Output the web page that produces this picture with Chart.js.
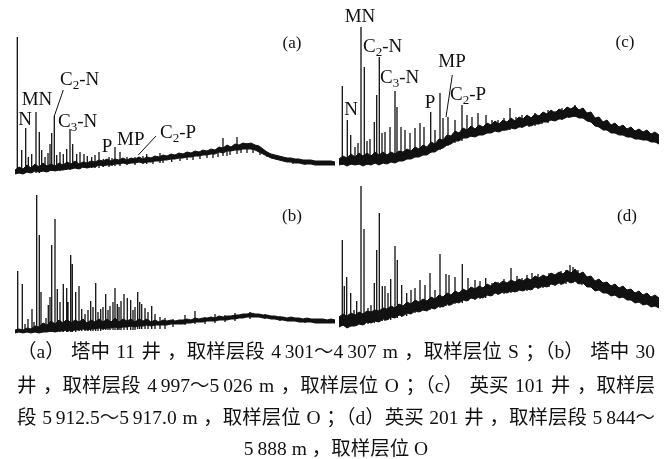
<!DOCTYPE html>
<html>
<head>
<meta charset="utf-8">
<script src="https://cdn.jsdelivr.net/npm/chart.js@4.4.1/dist/chart.umd.min.js"></script>
<style>
  html, body { margin: 0; padding: 0; background: #fff; }
  #wrap { position: relative; width: 670px; height: 459px; overflow: hidden; }
  #wrap canvas { position: absolute; }
  .cap { position: absolute; left: 17px; width: 638px; font-size: 19.5px; line-height: 32px;
    font-family: "Liberation Serif", "Noto Sans CJK SC", serif; color: #111;
    display: flex; justify-content: space-between; white-space: pre; }
  .cap.last { justify-content: center; }
</style>
</head>
<body>
<div id="wrap">
  <canvas id="ca" width="320" height="170" style="left:15px;top:10px"></canvas>
  <canvas id="cb" width="320" height="155" style="left:15px;top:185px"></canvas>
  <canvas id="cc" width="320" height="170" style="left:339px;top:0px"></canvas>
  <canvas id="cd" width="320" height="155" style="left:339px;top:180px"></canvas>
</div>
<script>
// Four chromatograms (retention time vs abundance), drawn as a noisy
// baseline band plus individual peaks.

const bandX = [0, 4, 8, 12, 16, 20, 24, 28, 32, 36, 40, 44, 48, 52, 56, 60, 64, 68, 72, 76, 80, 84, 88,
  92, 96, 100, 104, 108, 112, 116, 120, 124, 128, 132, 136, 140, 144, 148, 152, 156, 160, 164, 168, 172,
  176, 180, 184, 188, 192, 196, 200, 204, 208, 212, 216, 220, 224, 228, 232, 236, 240, 244, 248, 252, 256,
  260, 264, 268, 272, 276, 280, 284, 288, 292, 296, 300, 304, 308, 312, 316, 320];

// ---- (a) 塔中 11 ----
const aBandLow = [-1, 0, -1, 1, 0, 2, 1, 2, 1, 3, 2, 3, 3, 4, 4, 5, 4, 6, 5, 6, 6, 8, 7, 8, 8, 9, 9, 10,
  9, 10, 10, 11, 10, 11, 11, 12, 12, 13, 13, 14, 14, 15, 15, 16, 16, 17, 17, 18, 18, 19, 19, 21, 20, 22, 22,
  23, 23, 24, 24, 24, 23, 21, 19, 17, 15, 14, 13, 12, 11, 11, 10, 10, 9, 9, 9, 8, 8, 8, 8, 8, 8];
const aBandHigh = [3, 6, 4, 8, 5, 9, 6, 10, 7, 9, 7, 10, 8, 11, 9, 12, 9, 11, 10, 12, 11, 13, 12, 14, 12,
  14, 13, 15, 13, 15, 14, 16, 14, 16, 15, 17, 16, 18, 17, 19, 18, 20, 19, 21, 20, 22, 21, 23, 22, 24, 23,
  26, 25, 28, 26, 29, 28, 30, 29, 30, 28, 27, 24, 21, 19, 18, 17, 16, 15, 15, 14, 14, 13, 13, 13, 12, 12,
  12, 12, 12, 11];
const aPeakX = [2.3, 6.7, 10.7, 13.3, 16.7, 21, 24.3, 26.7, 30, 33, 35, 36.7, 39.3, 41.7, 45, 48.3, 51.7,
  55, 57.7, 61.7, 65, 69, 72.3, 76.7, 80, 84, 88.3, 94, 97, 100, 105, 112, 120, 128, 131.7, 138, 145, 148,
  156.7, 165, 172, 178, 185, 192, 198, 203, 208, 212, 215, 222, 226, 232, 238, 245, 252, 262, 270, 278, 290,
  302, 312];
const aPeakTop = [136, 23, 45, 16, 19, 61, 41, 23, 16, 20, 29, 40, 57, 18, 21, 19, 24, 44, 29, 19, 21, 19,
  17, 16, 18, 21, 14, 16, 15, 26, 21, 16, 16, 17, 19, 14, 20, 16, 17, 19, 20, 19, 21, 22, 21, 25, 35, 28,
  26, 36, 29, 30, 26, 21, 19, 16, 15, 14, 13, 12, 12];
const aPeakBase = [0, 0, 0, 0, 0, 0, 0, 1, 1, 1, 2, 2, 2, 2, 2, 3, 3, 3, 4, 4, 4, 5, 5, 5, 5, 5, 6, 6, 7,
  7, 7, 8, 8, 9, 9, 9, 10, 10, 11, 12, 13, 13, 14, 15, 15, 16, 17, 17, 18, 19, 20, 20, 20, 18, 16, 13, 11,
  9, 8, 8, 8];

// ---- (b) 塔中 30 ----
const bBandLow = [-1, 0, -1, 0, -1, 0, -1, 0, 0, 1, 0, 1, 1, 2, 1, 2, 2, 3, 2, 3, 3, 4, 3, 4, 4, 5, 4, 5,
  5, 6, 5, 6, 6, 7, 6, 7, 7, 7, 7, 8, 8, 8, 8, 9, 9, 10, 10, 10, 11, 11, 11, 12, 12, 12, 13, 13, 14, 14, 15,
  15, 15, 15, 14, 14, 13, 13, 12, 12, 11, 11, 11, 10, 10, 10, 10, 9, 9, 9, 9, 9, 9];
const bBandHigh = [2, 3, 2, 4, 3, 6, 5, 9, 7, 11, 8, 12, 9, 13, 9, 12, 10, 13, 9, 12, 10, 13, 10, 13, 10,
  14, 10, 13, 11, 13, 10, 13, 11, 13, 10, 12, 10, 12, 11, 12, 11, 12, 12, 13, 12, 14, 13, 14, 14, 15, 14,
  16, 15, 16, 16, 17, 17, 18, 18, 19, 18, 18, 17, 17, 16, 16, 15, 15, 14, 15, 14, 14, 13, 14, 13, 13, 13,
  13, 12, 13, 12];
const bPeakX = [2.7, 7.3, 10, 13, 17, 19, 21.7, 24.3, 26, 29, 31, 33.3, 35, 36.7, 40, 42.3, 45, 48.3, 51.7,
  53, 55.7, 57.3, 60.7, 64, 66.7, 70, 73, 75.7, 78, 80.7, 83, 85.7, 88, 90.7, 93, 95, 98, 100, 102.3, 104,
  106, 109, 112.3, 115.7, 118, 120, 122.7, 124.7, 126.7, 130, 133, 136.7, 140, 145, 150, 158, 170, 180,
  190, 200, 210, 220, 235, 250, 265, 290, 310];
const bPeakTop = [61, 48, 8, 13, 23, 10, 137, 97, 40, 8, 14, 27, 35, 87, 113, 43, 30, 48, 44, 30, 77, 68,
  40, 46, 23, 18, 22, 31, 25, 49, 20, 23, 25, 38, 22, 26, 30, 44, 28, 25, 31, 38, 34, 32, 22, 25, 40, 30,
  28, 24, 20, 26, 18, 15, 14, 13, 17, 21, 15, 18, 17, 19, 20, 18, 16, 14, 13];
const bPeakBase = [0, 0, 0, 0, 0, 0, 0, 0, 0, 0, 0, 0, 0, 0, 0, 0, 0, 0, 0, 0, 0, 0, 0, 1, 1, 1, 1, 1, 1,
  1, 1, 1, 2, 2, 2, 2, 2, 2, 2, 2, 2, 2, 2, 2, 2, 2, 3, 3, 3, 3, 3, 3, 3, 3, 3, 5, 7, 8, 8, 9, 10, 11, 13,
  13, 11, 9, 9];

// ---- (c) 英买 101 ----
const cBandLow = [-2, -1, -3, -1, -2, -1, -3, -1, -2, 0, -2, 0, -1, 1, 0, 2, 2, 4, 4, 6, 6, 8, 8, 11, 11,
  14, 15, 18, 19, 22, 22, 25, 25, 27, 26, 28, 28, 30, 30, 32, 31, 33, 33, 35, 34, 36, 36, 38, 37, 39, 39,
  41, 41, 43, 42, 44, 44, 46, 46, 47, 45, 45, 42, 41, 37, 36, 33, 33, 30, 30, 28, 28, 26, 26, 24, 24, 23,
  23, 21, 21, 19];
const cBandHigh = [4, 7, 5, 9, 6, 10, 7, 10, 7, 11, 8, 11, 8, 11, 9, 12, 11, 14, 12, 16, 14, 18, 16, 21,
  19, 24, 23, 28, 27, 32, 30, 35, 33, 37, 34, 38, 36, 40, 38, 42, 39, 43, 41, 45, 42, 46, 44, 48, 45, 49,
  47, 51, 49, 53, 50, 54, 52, 56, 54, 57, 53, 55, 50, 51, 45, 46, 41, 43, 38, 40, 36, 38, 34, 36, 32, 34,
  31, 33, 29, 31, 28];
const cPeakX = [3.3, 8.3, 11.7, 16, 19, 22, 25.3, 28, 31, 35.3, 37.7, 40.3, 43, 46, 51, 56, 58, 62, 66,
  71, 76, 81, 85, 91.7, 96, 101, 104, 109, 116, 123, 128, 133, 139, 147, 153, 159, 165, 171, 177, 183, 190,
  196, 203, 209, 216, 223, 230, 236, 244, 250, 256, 262, 269, 278, 286, 295, 303, 310, 316];
const cPeakTop = [77, 43, 28, 16, 20, 136, 96, 22, 24, 41, 68, 106, 30, 31, 36, 72, 56, 36, 33, 30, 35,
  40, 36, 51, 33, 70, 45, 46, 43, 58, 48, 46, 50, 48, 43, 43, 45, 55, 46, 48, 47, 50, 49, 53, 52, 55, 54,
  58, 55, 51, 45, 42, 38, 37, 35, 33, 31, 30, 28];
const cPeakBase = [-2, -2, -2, -2, -2, -2, -2, -2, -2, -1, -1, -1, -1, 0, 1, 1, 2, 2, 4, 5, 6, 7, 8, 10,
  11, 13, 15, 17, 20, 22, 25, 26, 28, 29, 30, 31, 32, 33, 34, 35, 36, 37, 39, 40, 42, 43, 45, 46, 45, 42,
  40, 36, 33, 30, 28, 26, 24, 22, 21];

// ---- (d) 英买 201 ----
const dBandLow = [-4, -2, -5, -3, -3, -1, -2, 1, 0, 2, 1, 4, 3, 6, 5, 8, 7, 10, 9, 12, 11, 13, 12, 15, 14,
  17, 16, 19, 18, 21, 20, 23, 22, 25, 24, 26, 25, 28, 27, 30, 29, 31, 30, 32, 31, 33, 32, 34, 33, 36, 35,
  37, 36, 39, 38, 40, 39, 42, 40, 42, 39, 40, 36, 36, 32, 33, 30, 30, 27, 28, 25, 26, 23, 23, 20, 21, 18,
  19, 16, 17, 15];
const dBandHigh = [6, 9, 7, 10, 8, 11, 9, 12, 11, 13, 12, 15, 14, 17, 15, 19, 17, 21, 19, 23, 21, 24, 22,
  26, 24, 28, 26, 30, 28, 32, 30, 34, 32, 36, 34, 37, 35, 39, 37, 41, 39, 42, 40, 43, 41, 44, 42, 45, 43,
  47, 45, 48, 46, 50, 48, 51, 49, 53, 50, 54, 49, 51, 46, 47, 42, 44, 40, 41, 37, 39, 35, 37, 33, 34, 30,
  32, 28, 30, 26, 28, 25];
const dPeakX = [3.3, 5.3, 7.7, 11.7, 15, 17.7, 22, 25, 29, 32, 35.3, 37.7, 40.3, 43.3, 46, 49, 51.7, 56,
  58.3, 62.7, 67.7, 72, 76, 81, 86, 91, 96, 101, 107, 110, 116, 123.3, 129, 136, 141, 146.7, 153, 159, 165,
  172, 178, 183, 188, 193, 199, 204, 210, 216, 222, 227, 231, 234, 239, 243, 250, 256, 264, 273, 281, 289,
  297, 306, 312, 318];
const dPeakTop = [83, 37, 46, 30, 13, 22, 137, 94, 15, 18, 40, 73, 110, 37, 37, 30, 44, 77, 63, 38, 30,
  33, 35, 43, 38, 50, 33, 69, 49, 48, 46, 59, 45, 43, 42, 45, 40, 41, 44, 55, 47, 45, 48, 50, 49, 46, 50,
  48, 52, 53, 58, 56, 53, 50, 47, 40, 38, 33, 31, 28, 27, 25, 24, 23];
const dPeakBase = [-3, -3, -3, -3, -3, -3, -2, -2, -1, 0, 0, 1, 1, 2, 2, 3, 3, 5, 5, 6, 7, 9, 10, 11, 12,
  13, 14, 15, 17, 17, 19, 20, 22, 23, 24, 25, 27, 28, 29, 30, 31, 32, 32, 33, 34, 35, 36, 37, 38, 39, 40,
  40, 39, 38, 36, 33, 30, 27, 25, 23, 21, 19, 17, 16];

// peak labels: text ("_" marks a subscript), x, y, alignment, font size
const aLabels = [['(a)', 277, 129, 'center', 17], ['N', 10, 53, 'center', 19], ['MN', 22, 73, 'center', 19],
  ['C_2-N', 45, 93, 'left', 19], ['C_3-N', 43, 51, 'left', 19], ['P', 92, 26, 'center', 19],
  ['MP', 102, 33, 'left', 19], ['C_2-P', 145, 40, 'left', 19]];
const aLeaders = [[48.3, 83, 39.3, 57], [141, 37, 123.3, 18]];
const bLabels = [['(b)', 277, 115, 'center', 17]];
const cLabels = [['(c)', 286, 120, 'center', 17], ['MN', 21, 146, 'center', 19], ['N', 12, 53, 'center', 19],
  ['C_2-N', 24, 116, 'left', 19], ['C_3-N', 41, 85, 'left', 19], ['P', 91, 60, 'center', 19],
  ['MP', 113, 101, 'center', 19], ['C_2-P', 111, 68, 'left', 19]];
const cLeaders = [[113.3, 88, 107, 46]];
const dLabels = [['(d)', 288, 106, 'center', 17]];

// caption, one array of words per line (thin spaces inside numbers)
const captionLines = [
  ['（a）', '塔中', '11', '井', '，取样层段', '4\u2009301～4\u2009307', 'm', '，取样层位', 'S', '；（b）', '塔中', '30'],
  ['井', '，取样层段', '4\u2009997～5\u2009026', 'm', '，取样层位', 'O', '；（c）', '英买', '101', '井', '，取样层'],
  ['段', '5\u2009912.5～5\u2009917.0', 'm', '，取样层位', 'O', '；（d）英买', '201', '井', '，取样层段', '5\u2009844～'],
  ['5\u2009888 m ，取样层位 O']
];
const captionTops = [336, 370, 402, 433];

function drawRich(ctx, text, x, y, align, size) {
  const segs = [];
  for (let i = 0; i < text.length; i++) {
    if (text[i] === '_') { segs.push({ t: text[i + 1], sub: true }); i++; }
    else if (segs.length && !segs[segs.length - 1].sub) segs[segs.length - 1].t += text[i];
    else segs.push({ t: text[i], sub: false });
  }
  const subSize = Math.round(size * 0.68);
  let w = 0;
  segs.forEach(function (s) {
    ctx.font = (s.sub ? subSize : size) + 'px "Liberation Serif"';
    s.w = ctx.measureText(s.t).width;
    w += s.w;
  });
  let cx = align === 'center' ? x - w / 2 : x;
  segs.forEach(function (s) {
    ctx.font = (s.sub ? subSize : size) + 'px "Liberation Serif"';
    ctx.fillText(s.t, cx, s.sub ? y + size * 0.3 : y);
    cx += s.w;
  });
}

function makePanel(id, bandLow, bandHigh, peakX, peakTop, peakBase, yMin, yMax, labels, leaders) {
  const spikes = [];
  peakX.forEach(function (x, i) {
    spikes.push({ x: x, y: peakBase[i] }, { x: x, y: peakTop[i] }, { x: x, y: null });
  });
  const annot = {
    id: 'annot',
    afterDraw: function (chart) {
      const xs = chart.scales.x, ys = chart.scales.y, ctx = chart.ctx;
      ctx.save();
      ctx.fillStyle = '#111';
      ctx.strokeStyle = '#111';
      ctx.lineWidth = 1;
      ctx.textBaseline = 'middle';
      ctx.textAlign = 'left';
      labels.forEach(function (l) {
        drawRich(ctx, l[0], xs.getPixelForValue(l[1]), ys.getPixelForValue(l[2]), l[3], l[4]);
      });
      (leaders || []).forEach(function (s) {
        ctx.beginPath();
        ctx.moveTo(xs.getPixelForValue(s[0]), ys.getPixelForValue(s[1]));
        ctx.lineTo(xs.getPixelForValue(s[2]), ys.getPixelForValue(s[3]));
        ctx.stroke();
      });
      ctx.restore();
    }
  };
  return new Chart(document.getElementById(id), {
    type: 'line',
    data: {
      datasets: [
        { data: bandX.map(function (x, i) { return { x: x, y: bandHigh[i] }; }),
          borderColor: '#111', borderWidth: 1, pointRadius: 0, tension: 0,
          backgroundColor: '#111', fill: '+1' },
        { data: bandX.map(function (x, i) { return { x: x, y: bandLow[i] }; }),
          borderColor: '#111', borderWidth: 1, pointRadius: 0, tension: 0, fill: false },
        { data: spikes, borderColor: '#111', borderWidth: 1.3, pointRadius: 0,
          spanGaps: false, fill: false }
      ]
    },
    options: {
      responsive: false,
      animation: false,
      devicePixelRatio: 1,
      layout: { padding: 0 },
      scales: {
        x: { type: 'linear', min: 0, max: 320, display: false },
        y: { min: yMin, max: yMax, display: false }
      },
      plugins: { legend: { display: false }, tooltip: { enabled: false } }
    },
    plugins: [annot]
  });
}

makePanel('ca', aBandLow, aBandHigh, aPeakX, aPeakTop, aPeakBase, -7, 163, aLabels, aLeaders);
makePanel('cb', bBandLow, bBandHigh, bPeakX, bPeakTop, bPeakBase, -8, 147, bLabels, null);
makePanel('cc', cBandLow, cBandHigh, cPeakX, cPeakTop, cPeakBase, -7, 163, cLabels, cLeaders);
makePanel('cd', dBandLow, dBandHigh, dPeakX, dPeakTop, dPeakBase, -12, 143, dLabels, null);

const wrap = document.getElementById('wrap');
captionLines.forEach(function (words, i) {
  const line = document.createElement('div');
  line.className = 'cap' + (i === captionLines.length - 1 ? ' last' : '');
  line.style.top = captionTops[i] + 'px';
  words.forEach(function (w) {
    const span = document.createElement('span');
    span.textContent = w;
    line.appendChild(span);
  });
  wrap.appendChild(line);
});
</script>
</body>
</html>
